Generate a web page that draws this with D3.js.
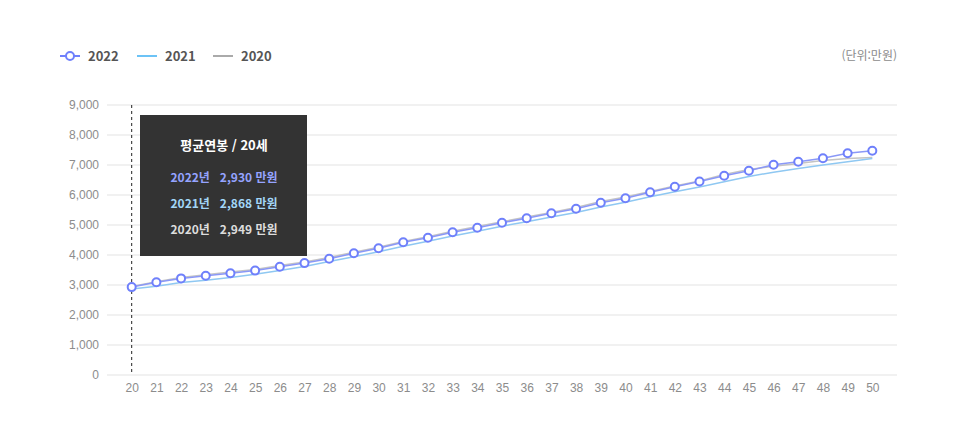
<!DOCTYPE html>
<html lang="ko">
<head>
  <meta charset="UTF-8" />
  <title>평균연봉</title>
  <style>
    body { margin: 0; background: #fff; font-family: 'Noto Sans CJK KR', 'Noto Sans', sans-serif; }
    .grid line { stroke: #e3e3e3; stroke-width: 1px; }
    .axis text { fill: #8c8c8c; font-size: 12px; }
    .legend text { fill: #555; font-size: 13px; font-weight: 600; }
    .tip-title { fill: #fff; font-size: 13px; font-weight: 700; }
    .tip-row { font-size: 12px; font-weight: 600; }
  </style>
</head>
<body>
  <svg id="chart" width="956" height="443"></svg>

  <script src="https://d3js.org/d3.v7.min.js"></script>
  <script>
    const ages = d3.range(20, 51);
    const years = ["2022", "2021", "2020"];
    const salary2022 = [2930, 3090, 3220, 3310, 3390, 3480, 3610, 3730, 3877, 4057, 4223,
      4423, 4577, 4757, 4910, 5077, 5223, 5390, 5543, 5743, 5890,
      6090, 6277, 6450, 6643, 6810, 7010, 7110, 7223, 7390, 7477];
    const salary2021 = [2868, 2960, 3080, 3160, 3250, 3360, 3480, 3620, 3780, 3940, 4110,
      4290, 4460, 4630, 4790, 4960, 5110, 5270, 5420, 5600, 5760,
      5940, 6110, 6270, 6440, 6620, 6760, 6880, 7000, 7110, 7220];
    const salary2020 = [2949, 3110, 3250, 3340, 3430, 3520, 3650, 3770, 3920, 4090, 4260,
      4450, 4610, 4790, 4950, 5110, 5270, 5420, 5580, 5780, 5930,
      6120, 6300, 6470, 6680, 6850, 6960, 7050, 7150, 7220, 7250];
    const yTicks = [0, 1000, 2000, 3000, 4000, 5000, 6000, 7000, 8000, 9000];
    const selectedIndex = 0;

    const series = [
      { name: years[0], values: salary2022, color: "#8a98f7", mark: "#6f80fb", tip: "#95a3ff" },
      { name: years[1], values: salary2021, color: "#8fc8f2", mark: "#6cc3f6", tip: "#a2d6f7" },
      { name: years[2], values: salary2020, color: "#c4c4c4", mark: "#aaaaaa", tip: "#dddddd" }
    ];

    const svg = d3.select("#chart");
    const plotLeft = 107, plotRight = 897, plotTop = 105, plotBottom = 375;

    const x = d3.scalePoint().domain(ages).range([plotLeft, plotRight]).padding(1);
    const y = d3.scaleLinear().domain([0, 9000]).range([plotBottom, plotTop]);

    // grid
    svg.append("g").attr("class", "grid")
      .selectAll("line").data(yTicks).join("line")
      .attr("x1", plotLeft).attr("x2", plotRight)
      .attr("y1", d => y(d)).attr("y2", d => y(d));

    // y axis
    const yAxis = svg.append("g").attr("class", "axis")
      .attr("transform", `translate(${plotLeft - 8},0)`)
      .call(d3.axisLeft(y).tickValues(yTicks).tickSize(0).tickPadding(0).tickFormat(d3.format(",")));
    yAxis.select(".domain").remove();

    // x axis
    const xAxis = svg.append("g").attr("class", "axis")
      .attr("transform", `translate(0,${plotBottom + 8})`)
      .call(d3.axisBottom(x).tickSize(0).tickPadding(0));
    xAxis.select(".domain").remove();
    xAxis.selectAll("text").attr("dy", "0.71em");

    // pointer line
    svg.append("line")
      .attr("x1", x(ages[selectedIndex])).attr("x2", x(ages[selectedIndex]))
      .attr("y1", plotTop).attr("y2", plotBottom)
      .attr("stroke", "#222").attr("stroke-width", 1).attr("stroke-dasharray", "3,3");

    const line = d3.line().x((d, i) => x(ages[i])).y(d => y(d));

    // draw back to front: 2020, 2021, 2022
    series.slice().reverse().forEach(s => {
      svg.append("path")
        .datum(s.values)
        .attr("fill", "none")
        .attr("stroke", s.color)
        .attr("stroke-width", 1.5)
        .attr("d", line);
    });

    svg.append("g").selectAll("circle").data(salary2022).join("circle")
      .attr("cx", (d, i) => x(ages[i])).attr("cy", d => y(d))
      .attr("r", 4)
      .attr("fill", "#fff")
      .attr("stroke", series[0].mark)
      .attr("stroke-width", 2);

    // legend
    const legend = svg.append("g").attr("class", "legend");
    const legendX = [60, 137, 213];
    series.forEach((s, i) => {
      const g = legend.append("g").attr("transform", `translate(${legendX[i]},56)`);
      g.append("line").attr("x1", 0).attr("x2", 20).attr("y1", 0).attr("y2", 0)
        .attr("stroke", s.mark).attr("stroke-width", 2);
      if (i === 0) {
        g.append("circle").attr("cx", 10).attr("cy", 0).attr("r", 4)
          .attr("fill", "#fff").attr("stroke", s.mark).attr("stroke-width", 2);
      }
      g.append("text").attr("x", 28).attr("dy", "0.35em").text(s.name);
    });

    svg.append("text")
      .attr("x", plotRight).attr("y", 56).attr("dy", "0.35em")
      .attr("text-anchor", "end")
      .attr("fill", "#8c8c8c").attr("font-size", 12)
      .text("(단위:만원)");

    // tooltip
    const tip = svg.append("g").attr("transform", "translate(140,115)");
    tip.append("rect").attr("width", 167).attr("height", 141).attr("fill", "#333");
    tip.append("text").attr("class", "tip-title")
      .attr("x", 84).attr("y", 30).attr("dy", "0.35em").attr("text-anchor", "middle")
      .text(`평균연봉 / ${ages[selectedIndex]}세`);
    series.forEach((s, i) => {
      const t = tip.append("text").attr("class", "tip-row")
        .attr("x", 84).attr("y", 63 + i * 26).attr("dy", "0.35em")
        .attr("text-anchor", "middle").attr("fill", s.tip);
      t.append("tspan").text(`${s.name}년`);
      t.append("tspan").attr("dx", 10).text(`${d3.format(",")(s.values[selectedIndex])} 만원`);
    });
  </script>
</body>
</html>
